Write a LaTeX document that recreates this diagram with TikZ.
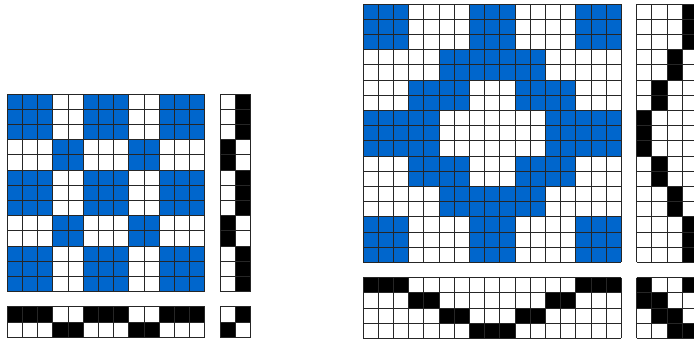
\documentclass[tikz,border=0pt]{standalone}
\definecolor{wblue}{RGB}{0,102,204}
\tikzset{
  gridln/.style={draw=black!85,line width=0.9pt},
  bluecell/.style={fill=wblue},
  blackcell/.style={fill=black}
}
\newcommand\cs{15.2}
\newcommand\mygrid[2]{%
  \foreach \i in {0,...,#1}{\draw[gridln] (\i*\cs,0) -- (\i*\cs,#2*\cs);}
  \foreach \j in {0,...,#2}{\draw[gridln] (0,\j*\cs) -- (#1*\cs,\j*\cs);}
}
\begin{document}
\begin{tikzpicture}[x=1pt,y=-1pt]
\useasboundingbox (0,0) rectangle (694,340);
\clip (0,0) rectangle (694,340);
% ---------------- left draft ----------------
\begin{scope}[shift={(7.3,94)}]
  \foreach \r in {0,...,12}{
    \foreach \c in {0,...,12}{
      \pgfmathtruncatemacro\s{{0,0,0,1,1,0,0,0,1,1,0,0,0}[\c]}
      \pgfmathtruncatemacro\t{{1,1,1,0,0,1,1,1,0,0,1,1,1}[\r]}
      \pgfmathtruncatemacro\k{(\t==1-\s)}
      \ifnum\k=1 \fill[bluecell] (\c*\cs,\r*\cs) rectangle ++(\cs,\cs);\fi
    }
  }
  \mygrid{13}{13}
\end{scope}
% threading
\begin{scope}[shift={(7.3,306.8)}]
  \foreach \c in {0,...,12}{
    \pgfmathtruncatemacro\s{{0,0,0,1,1,0,0,0,1,1,0,0,0}[\c]}
    \fill[blackcell] (\c*\cs,\s*\cs) rectangle ++(\cs,\cs);
  }
  \mygrid{13}{2}
\end{scope}
% treadling
\begin{scope}[shift={(220.1,94)}]
  \foreach \r in {0,...,12}{
    \pgfmathtruncatemacro\t{{1,1,1,0,0,1,1,1,0,0,1,1,1}[\r]}
    \fill[blackcell] (\t*\cs,\r*\cs) rectangle ++(\cs,\cs);
  }
  \mygrid{2}{13}
\end{scope}
% tie-up
\begin{scope}[shift={(220.1,306.8)}]
  \fill[blackcell] (\cs,0) rectangle ++(\cs,\cs);
  \fill[blackcell] (0,\cs) rectangle ++(\cs,\cs);
  \mygrid{2}{2}
\end{scope}
% ---------------- right draft ----------------
\begin{scope}[shift={(363,4)}]
  \foreach \r in {0,...,16}{
    \foreach \c in {0,...,16}{
      \pgfmathtruncatemacro\s{{0,0,0,1,1,2,2,3,3,3,2,2,1,1,0,0,0}[\c]}
      \pgfmathtruncatemacro\t{{3,3,3,2,2,1,1,0,0,0,1,1,2,2,3,3,3}[\r]}
      \pgfmathtruncatemacro\k{(\t==\s)||(\t==mod(\s+3,4))}
      \ifnum\k=1 \fill[bluecell] (\c*\cs,\r*\cs) rectangle ++(\cs,\cs);\fi
    }
  }
  \mygrid{17}{17}
\end{scope}
% threading
\begin{scope}[shift={(363,277.6)}]
  \foreach \c in {0,...,16}{
    \pgfmathtruncatemacro\s{{0,0,0,1,1,2,2,3,3,3,2,2,1,1,0,0,0}[\c]}
    \fill[blackcell] (\c*\cs,\s*\cs) rectangle ++(\cs,\cs);
  }
  \mygrid{17}{4}
\end{scope}
% treadling
\begin{scope}[shift={(636.6,4)}]
  \foreach \r in {0,...,16}{
    \pgfmathtruncatemacro\t{{3,3,3,2,2,1,1,0,0,0,1,1,2,2,3,3,3}[\r]}
    \fill[blackcell] (\t*\cs,\r*\cs) rectangle ++(\cs,\cs);
  }
  \mygrid{4}{17}
\end{scope}
% tie-up
\begin{scope}[shift={(636.6,277.6)}]
  \foreach \s in {0,...,3}{
    \foreach \t in {0,...,3}{
      \pgfmathtruncatemacro\k{(\t==\s)||(\t==mod(\s+3,4))}
      \ifnum\k=1 \fill[blackcell] (\t*\cs,\s*\cs) rectangle ++(\cs,\cs);\fi
    }
  }
  \mygrid{4}{4}
\end{scope}
\end{tikzpicture}
\end{document}
